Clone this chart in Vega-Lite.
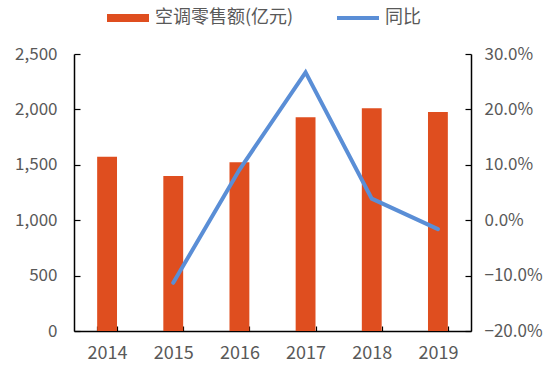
{
  "$schema": "https://vega.github.io/schema/vega-lite/v6.json",
  "width": 397,
  "height": 277,
  "autosize": {"type": "none"},
  "padding": {"left": 74, "top": 54, "right": 83, "bottom": 34},
  "background": "white",
  "config": {
    "view": {"stroke": null},
    "font": "Noto Sans CJK SC",
    "axis": {
      "labelFont": "Noto Sans CJK SC",
      "labelFontSize": 17,
      "labelColor": "#595959",
      "domainColor": "#000000",
      "domainWidth": 1.5,
      "tickColor": "#000000",
      "tickWidth": 1.2,
      "grid": false,
      "title": null
    }
  },
  "datasets": {
    "sales": [
      {"year": "2014", "value": 1572, "series": "空调零售额(亿元)"},
      {"year": "2015", "value": 1398, "series": "空调零售额(亿元)"},
      {"year": "2016", "value": 1523, "series": "空调零售额(亿元)"},
      {"year": "2017", "value": 1929, "series": "空调零售额(亿元)"},
      {"year": "2018", "value": 2010, "series": "空调零售额(亿元)"},
      {"year": "2019", "value": 1977, "series": "空调零售额(亿元)"}
    ],
    "yoy": [
      {"year": "2015", "value": -0.113, "series": "同比"},
      {"year": "2016", "value": 0.091, "series": "同比"},
      {"year": "2017", "value": 0.267, "series": "同比"},
      {"year": "2018", "value": 0.039, "series": "同比"},
      {"year": "2019", "value": -0.016, "series": "同比"}
    ]
  },
  "encoding": {
    "x": {
      "field": "year",
      "type": "ordinal",
      "scale": {"domain": ["2014", "2015", "2016", "2017", "2018", "2019"], "paddingInner": 0.7, "paddingOuter": 0.35},
      "axis": {"labelAngle": 0, "tickBand": "extent", "tickSize": -5, "labelPadding": 18, "labelFontSize": 18, "domainWidth": 1.5}
    }
  },
  "layer": [
    {
      "data": {"name": "sales"},
      "mark": {"type": "bar", "color": "#DF4E1F"},
      "encoding": {
        "y": {
          "field": "value",
          "type": "quantitative",
          "scale": {"domain": [0, 2500]},
          "axis": {"values": [0, 500, 1000, 1500, 2000, 2500], "format": ",d", "tickSize": -6, "labelPadding": 23, "orient": "left"}
        },
        "color": {
          "field": "series",
          "type": "nominal",
          "scale": {"domain": ["空调零售额(亿元)", "同比"], "range": ["#DF4E1F", "#5A8ED6"]},
          "legend": {
            "orient": "none",
            "legendX": 33,
            "legendY": -57,
            "direction": "horizontal",
            "title": null,
            "labelFontSize": 18,
            "labelColor": "#595959",
            "labelFont": "Noto Sans CJK SC",
            "symbolSize": 1764,
            "labelOffset": 6,
            "columnPadding": 43,
            "symbolStrokeWidth": 0,
            "encode": {
              "symbols": {
                "update": {
                  "shape": {"signal": "datum.value === '同比' ? 'M-1,-0.1H1V0.1H-1Z' : 'M-1,-0.19H1V0.19H-1Z'"},
                  "fill": {"signal": "datum.value === '同比' ? '#5A8ED6' : '#DF4E1F'"},
                  "strokeWidth": {"value": 0},
                  "opacity": {"value": 1}
                }
              }
            }
          }
        }
      }
    },
    {
      "data": {"name": "yoy"},
      "mark": {"type": "line", "strokeWidth": 4, "strokeCap": "round", "strokeJoin": "miter", "color": "#5A8ED6"},
      "encoding": {
        "y": {
          "field": "value",
          "type": "quantitative",
          "scale": {"domain": [-0.2, 0.3]},
          "axis": {"values": [-0.2, -0.1, 0, 0.1, 0.2, 0.3], "format": ".1%", "tickSize": -6, "labelPadding": 19, "orient": "right"}
        },
        "color": {"field": "series", "type": "nominal"}
      }
    }
  ],
  "resolve": {"scale": {"y": "independent"}}
}
